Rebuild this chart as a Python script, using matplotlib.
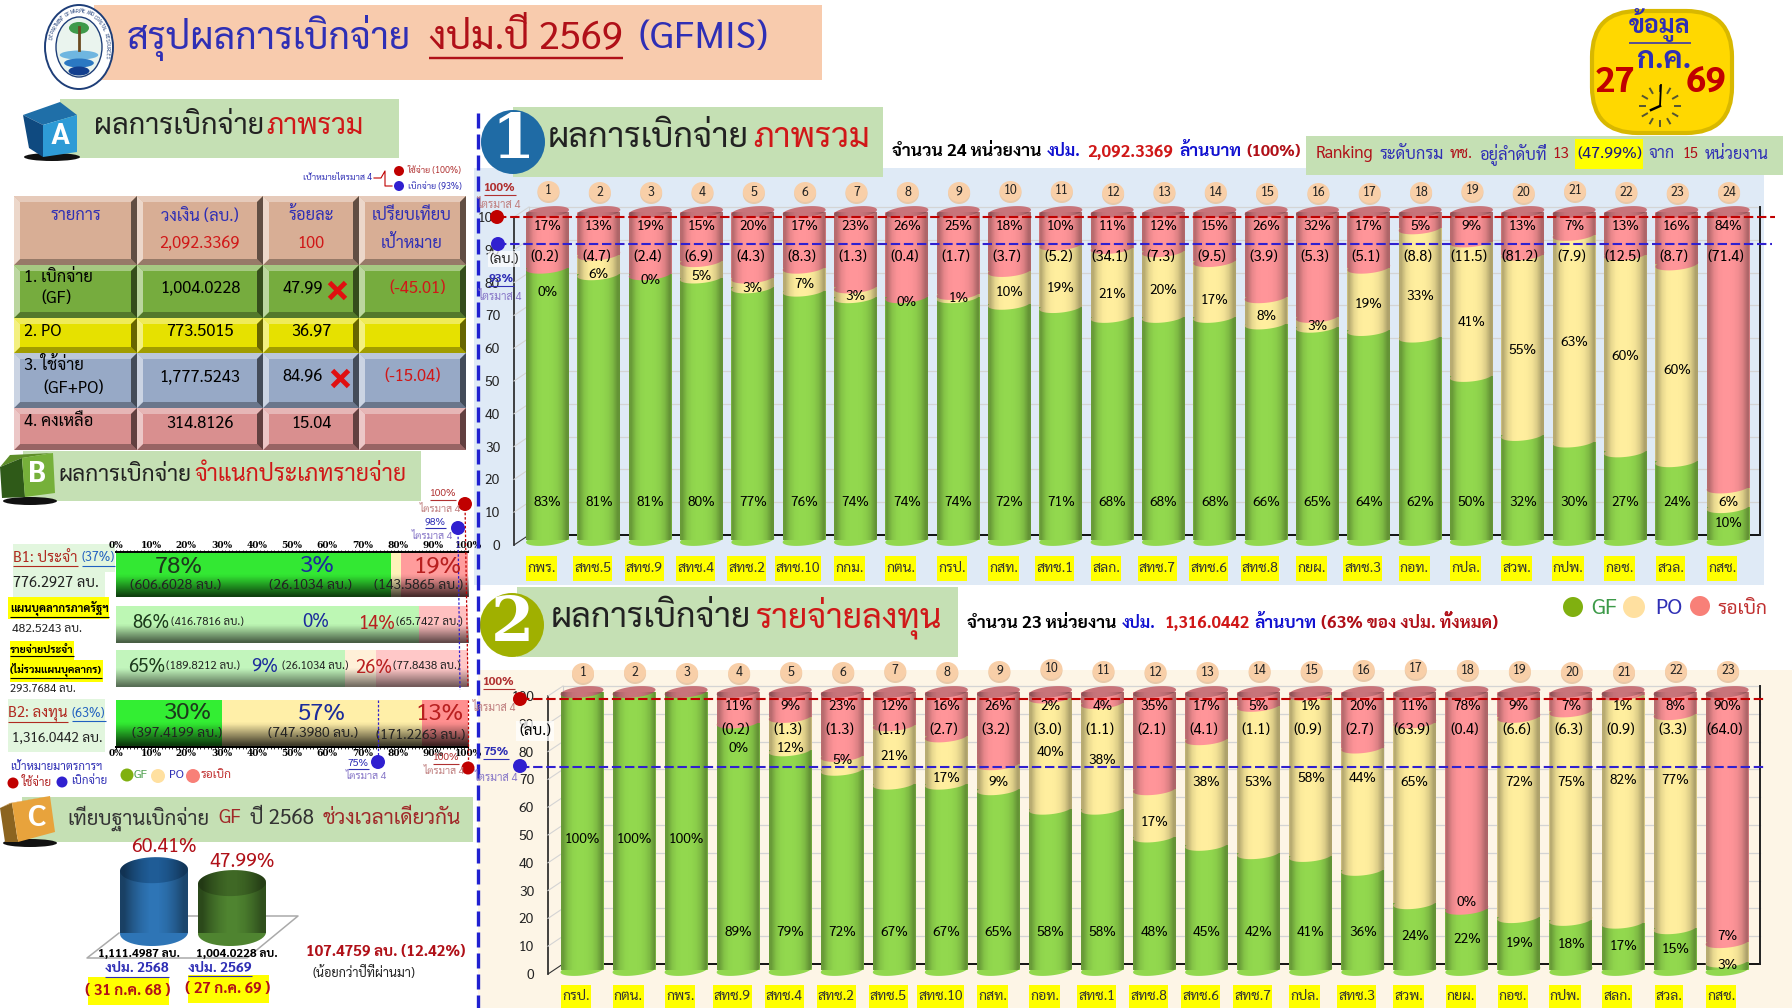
import numpy as np
import matplotlib
matplotlib.use("Agg")
import matplotlib.pyplot as plt
from matplotlib.colors import to_rgb
from matplotlib.patches import Ellipse, FancyBboxPatch, PathPatch, Polygon, Rectangle
from matplotlib.path import Path
from matplotlib.ticker import MultipleLocator
from matplotlib.transforms import Affine2D, IdentityTransform, blended_transform_factory

plt.rcParams["font.family"] = ["Sarabun", "Noto Sans Thai", "DejaVu Sans"]

W, H = 1792, 1008

# chart 1: all budget, 24 units
names1 = ["กพร.", "สทช.5", "สทช.9", "สทช.4", "สทช.2", "สทช.10", "กกม.", "กตน.", "กรป.", "กสท.", "สทช.1", "สลก.",
          "สทช.7", "สทช.6", "สทช.8", "กยผ.", "สทช.3", "กอท.", "กปล.", "สวพ.", "กปพ.", "กอช.", "สวล.", "กสช."]
gf1 = [83, 81, 81, 80, 77, 76, 74, 74, 74, 72, 71, 68, 68, 68, 66, 65, 64, 62, 50, 32, 30, 27, 24, 10]
po1 = [0, 6, 0, 5, 3, 7, 3, 0, 1, 10, 19, 21, 20, 17, 8, 3, 19, 33, 41, 55, 63, 60, 60, 6]
red1 = [17, 13, 19, 15, 20, 17, 23, 26, 25, 18, 10, 11, 12, 15, 26, 32, 17, 5, 9, 13, 7, 13, 16, 84]
amt1 = [0.2, 4.7, 2.4, 6.9, 4.3, 8.3, 1.3, 0.4, 1.7, 3.7, 5.2, 34.1, 7.3, 9.5, 3.9, 5.3, 5.1, 8.8, 11.5, 81.2,
        7.9, 12.5, 8.7, 71.4]

# chart 2: investment budget, 23 units
names2 = ["กรป.", "กตน.", "กพร.", "สทช.9", "สทช.4", "สทช.2", "สทช.5", "สทช.10", "กสท.", "กอท.", "สทช.1", "สทช.8",
          "สทช.6", "สทช.7", "กปล.", "สทช.3", "สวพ.", "กยผ.", "กอช.", "กปพ.", "สลก.", "สวล.", "กสช."]
gf2 = [100, 100, 100, 89, 79, 72, 67, 67, 65, 58, 58, 48, 45, 42, 41, 36, 24, 22, 19, 18, 17, 15, 3]
po2 = [0, 0, 0, 0, 12, 5, 21, 17, 9, 40, 38, 17, 38, 53, 58, 44, 65, 0, 72, 75, 82, 77, 7]
red2 = [0, 0, 0, 11, 9, 23, 12, 16, 26, 2, 4, 35, 17, 5, 1, 20, 11, 78, 9, 7, 1, 8, 90]
amt2 = [None, None, None, 0.2, 1.3, 1.3, 1.1, 2.7, 3.2, 3.0, 1.1, 2.1, 4.1, 1.1, 0.9, 2.7, 63.9, 0.4, 6.6, 6.3,
        0.9, 3.3, 64.0]

# pixel rows where the PO labels and number badges sit
po_row1 = [293, 274, 281, 276, 289, 284, 296, 303, 299, 293, 289, 295, 291, 301, 317, 327, 304, 296, 322, 351,
           342, 357, 370, 502]
po_row2 = [0, 0, 0, 749, 749, 760, 757, 778, 783, 752, 761, 822, 782, 782, 779, 779, 783, 902, 783, 783, 781,
           781, 936]
num_row1 = [191, 192, 192, 192, 192, 192, 192, 192, 192, 191, 191, 193, 192, 192, 193, 193, 193, 192, 191, 193,
            191, 192, 193, 192]
num_row2 = [673, 672, 673, 673, 672, 672, 671, 672, 671, 669, 671, 672, 672, 671, 671, 670, 669, 670, 671, 672,
            672, 671, 671]

# section B: horizontal stacked bars
b_gf = [78, 86, 65, 30]
b_po = [3, 0, 9, 57]
b_red = [19, 14, 26, 13]
b_gf_amt = ["(606.6028 ลบ.)", "(416.7816 ลบ.)", "(189.8212 ลบ.)", "(397.4199 ลบ.)"]
b_po_amt = ["(26.1034 ลบ.)", "", "(26.1034 ลบ.)", "(747.3980 ลบ.)"]
b_red_amt = ["(143.5865 ลบ.)", "(65.7427 ลบ.)", "(77.8438 ลบ.)", "(171.2263 ลบ.)"]

# section C: same period last year
c_pct = [60.41, 47.99]
c_amt = ["1,111.4987 ลบ.", "1,004.0228 ลบ."]
c_year = ["งปม. 2568", "งปม. 2569"]
c_date = ["( 31 ก.ค. 68 )", "( 27 ก.ค. 69 )"]

GF_C = "#92D84E"
PO_C = "#FFEE9E"
RED_C = "#FF9599"
TOP_C = "#C8747A"
HEAD_GREEN = "#C5E0B4"
BLUE = "#2F2FB5"
RED = "#D01818"
DRED = "#B01018"
MARK_RED = "#C00000"
MARK_BLUE = "#3020D0"

fig = plt.figure(figsize=(W / 100, H / 100), dpi=100, facecolor="white")
renderer = fig.canvas.get_renderer()


def layer(z):
    a = fig.add_axes([0, 0, 1, 1], zorder=z)
    a.set_xlim(0, W)
    a.set_ylim(H, 0)
    a.axis("off")
    return a


bg = layer(0)
fg = layer(5)


def T(x, y, s, px=14, color="black", ha="left", va="center", weight="normal", ul=False, ax=None, w=None, **kw):
    ax = ax or fg
    t = ax.text(x, y, s, fontsize=px * 0.72, color=color, ha=ha, va=va, fontweight=weight, **kw)
    if w:
        # scale the font so the text spans the width it has in the picture
        t.set_fontsize(t.get_fontsize() * w / t.get_window_extent(renderer).width)
    if ul:
        bb = t.get_window_extent(renderer)
        fg.plot([bb.x0, bb.x1], [H - bb.y0 + 1] * 2, color=color, lw=max(px / 22, 0.8), solid_capstyle="butt")
    return t


def rect(x0, y0, x1, y1, color, ax=None, **kw):
    (ax or bg).add_patch(Rectangle((x0, y0), x1 - x0, y1 - y0, fc=color, ec="none", **kw))


def dot(x, y, r, color, ax=None, ry=None, **kw):
    (ax or fg).add_patch(Ellipse((x, y), 2 * r, 2 * (ry or r), fc=color, ec="none", **kw))


def mix(c, other, f):
    return tuple(np.array(to_rgb(c)) * (1 - f) + np.array(to_rgb(other)) * f)


def bevel(x0, y0, x1, y1, c):
    rect(x0, y0, x1, y1, c)
    b = 6
    bg.add_patch(Polygon([(x0, y0), (x1, y0), (x1 - b, y0 + b), (x0 + b, y0 + b)], fc=mix(c, "white", 0.35), ec="none"))
    bg.add_patch(Polygon([(x0, y1), (x1, y1), (x1 - b, y1 - b), (x0 + b, y1 - b)], fc=mix(c, "black", 0.3), ec="none"))
    bg.add_patch(Polygon([(x0, y0), (x0, y1), (x0 + b, y1 - b), (x0 + b, y0 + b)], fc=mix(c, "white", 0.5), ec="none"))
    bg.add_patch(Polygon([(x1, y0), (x1, y1), (x1 - b, y1 - b), (x1 - b, y0 + b)], fc=mix(c, "black", 0.55), ec="none"))


def cube(top, left, right, ctop, cleft, cright, shadow, letter, lx, ly, lpx):
    dot(shadow[0], shadow[1], shadow[2], "#111111", ax=bg, ry=shadow[3])
    bg.add_patch(Polygon(top, fc=ctop, ec="none"))
    bg.add_patch(Polygon(left, fc=cleft, ec="none"))
    bg.add_patch(Polygon(right, fc=cright, ec="none"))
    T(lx, ly, letter, lpx, "white", ha="center", weight="bold")


def disc_path(c, v, w, hh, tilt):
    t = np.linspace(0, 2 * np.pi, 50)
    return np.c_[c + w * np.cos(t), v + hh * np.sin(t) + tilt * np.cos(t)]


def add_disc(ax, c, v, w, hh, tilt, color, z):
    ax.add_patch(Polygon(disc_path(c, v, w, hh, tilt), fc=color, ec="none", zorder=z, clip_on=False))


def add_shade(ax, c, top, w, hh, tilt, alphas, z):
    t0 = np.linspace(np.pi, 2 * np.pi, 30)
    t1 = np.linspace(0, np.pi, 30)
    xs = np.r_[c + w * np.cos(t0), c + w * np.cos(t1)]
    ys = np.r_[hh * np.sin(t0) + tilt * np.cos(t0), top + hh * np.sin(t1) + tilt * np.cos(t1)]
    sil = PathPatch(Path(np.c_[xs, ys]), fc="none", ec="none", transform=ax.transData, clip_on=False)
    ax.add_patch(sil)
    rgba = np.zeros((1, len(alphas), 4))
    rgba[0, :, 3] = alphas
    im = ax.imshow(rgba, extent=(c - w, c + w, -2 * hh, top + 2 * hh), aspect="auto", interpolation="bilinear", zorder=z)
    im.set_clip_path(sil)


CYL_SHADE = [0.28, 0.1, 0.02, 0, 0, 0.01, 0.05, 0.14, 0.32]


def cylinders(names, gf, po, red, amt, po_row, num_row, x0, dx, y0, y100, axis_x, wall_x, right, wall_dy, tick_dy,
              rows, label_y, box_h, target_px):
    ppu = (y0 - y100) / 100
    ax = fig.add_axes([axis_x / W, 1 - y0 / H, (right - axis_x) / W, (y0 - y100) / H], zorder=2)
    ax.patch.set_alpha(0)
    for s in ax.spines.values():
        s.set_visible(False)
    xlim = ((axis_x - x0) / dx, (right - x0) / dx)
    ax.set_xlim(xlim)
    ax.set_ylim(0, 100)
    x = np.arange(len(names))
    gf, po, red = np.array(gf), np.array(po), np.array(red)
    w = 21.5 / dx
    hh = 5.5 / ppu
    tilt = 2.2 / ppu

    # back wall, floor and the slanted 3D lines
    wall = ax.transData + Affine2D().translate(0, wall_dy)
    front = ax.transData + Affine2D().translate(0, -tick_dy)
    wx = (wall_x - x0) / dx
    for v in range(0, 101, 10):
        col = "black" if v == 0 else "#D4D4D4"
        ax.plot([wx, xlim[1]], [v, v], color=col, lw=1.3 if v == 0 else 0.9, transform=wall, clip_on=False, zorder=1)
    ax.plot([xlim[1]] * 2, [0, 100], color="#222222", lw=1.4, transform=wall, clip_on=False, zorder=1)
    ax.plot([xlim[0]] * 2, [0, 100], color="#222222", lw=1.2, transform=front, clip_on=False, zorder=1)
    ax.plot([wx, wx], [0, 100], color="#CFCFCF", lw=0.8, transform=wall, clip_on=False, zorder=1)
    for v in range(0, 101, 10):
        a = ax.transData.transform((xlim[0], v)) + (0, -tick_dy)
        b = ax.transData.transform((wx, v)) + (0, wall_dy)
        ax.plot([a[0], b[0]], [a[1], b[1]], color="#D4D4D4" if v else "#333333", lw=0.8,
                transform=IdentityTransform(), clip_on=False, zorder=1)

    ax.bar(x, gf, 2 * w, color=GF_C, zorder=3)
    ax.bar(x, po, 2 * w, bottom=gf, color=PO_C, zorder=4)
    ax.bar(x, red, 2 * w, bottom=gf + po, color=RED_C, zorder=5)
    for i in x:
        add_disc(ax, i, 0, w, hh, tilt, GF_C, 3)
        if po[i] > 0:
            add_disc(ax, i, gf[i], w, hh, tilt, PO_C, 4)
        if red[i] > 0:
            add_disc(ax, i, gf[i] + po[i], w, hh, tilt, RED_C, 5)
        add_disc(ax, i, 100, w, hh, tilt, TOP_C, 6)
        add_shade(ax, i, 100, w, hh, tilt, CYL_SHADE, 7)

    ax.set_xlim(xlim)
    ax.set_ylim(0, 100)
    ax.set_xticks([])
    ax.set_yticks(range(0, 101, 10))
    ax.tick_params(axis="y", length=0, pad=10, labelsize=10, labelcolor="#222222")
    for lab in ax.get_yticklabels():
        lab.set_transform(lab.get_transform() + Affine2D().translate(0, -tick_dy))

    tr = blended_transform_factory(ax.transData, fg.transData)
    red_y, amt_y, gf_y = rows
    for i in x:
        gf_mid = y0 - gf[i] / 2 * ppu
        gy = gf_y if gf[i] < 100 else y0 - 46.8 * ppu
        gy = max(gy, gf_mid) if gf[i] < 100 else gy
        ax.text(i, gy, f"{gf[i]}%", transform=tr, ha="center", va="center", fontsize=10, zorder=8)
        if amt[i] is not None:
            ax.text(i, red_y, f"{red[i]}%", transform=tr, ha="center", va="center", fontsize=10, zorder=8)
            ax.text(i - 0.05, amt_y, f"({amt[i]:.1f})", transform=tr, ha="center", va="center", fontsize=10.5, zorder=8)
            ax.text(i, po_row[i], f"{po[i]}%", transform=tr, ha="center", va="center", fontsize=10, zorder=8)
        # number badge and yellow name label
        cx = x0 + i * dx + 1
        dot(cx, num_row[i] + 2, 11, "#E8C8A8", ax=bg, ry=10)
        dot(cx, num_row[i], 11, "#F8CFA8", ax=bg, ry=10)
        T(cx, num_row[i], str(i + 1), 12.5, "#222222", ha="center")
        lx = x0 + i * dx - 6
        t = T(lx, label_y, names[i], 14, "#333333", ha="center")
        bb = t.get_window_extent(renderer)
        rect(bb.x0 - 1, label_y - box_h / 2, bb.x1 + 1, label_y + box_h / 2, "#FFFF00")

    # target lines, read against the tick scale
    for val, shift, col, xa, xb in target_px:
        tf = ax.transData + Affine2D().translate(0, -shift)
        ax.plot([(xa - x0) / dx, (xb - x0) / dx], [val, val], color=col, lw=1.5, dashes=(4.5, 1.8), transform=tf,
                clip_on=False, zorder=9)
    return ax


# ---- backgrounds
rect(94, 5, 822, 80, "#F8CBAD")
rect(60, 99, 399, 158, HEAD_GREEN)
rect(474, 168, 1764, 585, "#DFEAF6")
rect(513, 107, 883, 177, HEAD_GREEN)
rect(1306, 136, 1783, 175, HEAD_GREEN)
rect(478, 670, W, H, "#FDF5E6")
rect(517, 587, 958, 657, HEAD_GREEN)
rect(23, 451, 421, 501, HEAD_GREEN)
rect(22, 797, 473, 842, HEAD_GREEN)

# ---- title and logo
dot(79, 47, 34, "white", ax=bg, ry=42, lw=0)
bg.add_patch(Ellipse((79, 47), 68, 84, fc="none", ec="#1E3E78", lw=1.4))
bg.add_patch(Ellipse((79, 47), 46, 60, fc="#EAF4EE", ec="#1E3E78", lw=1))
for yy, col in [(52, "#6FB6E0"), (60, "#2B78C2"), (68, "#123E8E")]:
    hw = 22 - abs(yy - 47) * 0.55
    bg.add_patch(Ellipse((79, yy + 3), 2 * hw, 9, fc=col, ec="none"))
bg.plot([79, 79], [27, 50], color="#6B4A20", lw=2)
dot(79, 28, 10, "#3E9A4A", ax=bg, ry=6)
ring_top = "DEPARTMENT OF MARINE AND COASTAL RESOURCES"
for ang, ch in zip(np.linspace(165, -15, len(ring_top)), ring_top):
    a = np.deg2rad(ang)
    bg.text(79 + 28.5 * np.cos(a), 47 - 36 * np.sin(a), ch, fontsize=3.6, color="#1E3E78", ha="center", va="center",
            rotation=ang - 90)

T(127, 38, "สรุปผลการเบิกจ่าย", 38, BLUE, w=285)
T(429, 38, "งปม.ปี 2569", 38, DRED, ul=True, w=194)
T(639, 38, "(GFMIS)", 38, BLUE, w=130)

# ---- date badge
bg.add_patch(FancyBboxPatch((1612, 31), 100, 82, boxstyle="round,pad=20,rounding_size=46", fc="#FFD800", ec="#D8B800", lw=3))
T(1660, 25, "ข้อมูล", 25, BLUE, ha="center", weight="bold", ul=True)
T(1664, 60, "ก.ค.", 30, BLUE, ha="center", weight="bold")
T(1615, 83, "27", 36, "#C00000", ha="center", weight="bold")
T(1706, 83, "69", 36, "#C00000", ha="center", weight="bold")
for a in np.deg2rad(np.arange(0, 360, 30)):
    fg.plot([1660 + 15 * np.cos(a), 1660 + 20 * np.cos(a)], [106 + 15 * np.sin(a), 106 + 20 * np.sin(a)], color="#555533", lw=1.4)
fg.plot([1660, 1661], [106, 85], color="black", lw=1.3)
fg.plot([1660, 1651], [106, 110], color="black", lw=1.8)

# ---- section A
cube([(23, 115), (60, 102), (77, 115), (43, 125)], [(23, 115), (43, 125), (43, 157), (29, 148)],
     [(43, 125), (77, 115), (77, 152), (43, 157)], "#1F6FA8", "#0F4A80", "#2E9BD6", (52, 157, 28, 4), "A", 60, 137, 30)
T(94, 126, "ผลการเบิกจ่าย", 31, "#222222", w=169)
T(266, 126, "ภาพรวม", 31, RED, w=97)

T(372, 178, "เป้าหมายไตรมาส 4", 9, BLUE, ha="right")
fg.plot([374, 381, 385, 385, 392], [178, 178, 171, 186, 186], color=MARK_RED, lw=0.8)
dot(399, 171, 5, MARK_RED)
dot(399, 186, 5, MARK_BLUE)
T(408, 171, "ใช้จ่าย (100%)", 9, "#B03030")
T(408, 187, "เบิกจ่าย (93%)", 9, BLUE)

cols_x = [14, 137, 263, 359, 466]
rows_y = [196, 265, 318, 353, 408, 450]
row_c = ["#D8AE95", "#76AC3E", "#E6E100", "#97A9C6", "#D98F8F"]
for r in range(5):
    for c in range(4):
        bevel(cols_x[c], rows_y[r], cols_x[c + 1], rows_y[r + 1], row_c[r])

for x, a, b, col in [(76, "รายการ", "", BLUE), (200, "วงเงิน (ลบ.)", "2,092.3369", RED), (311, "ร้อยละ", "100", RED),
                     (412, "เปรียบเทียบ", "เป้าหมาย", BLUE)]:
    T(x, 216, a, 16.5, BLUE, ha="center")
    T(x, 244, b, 16.5, col, ha="center")
T(24, 277, "1. เบิกจ่าย", 16.5)
T(41, 298, "(GF)", 16.5)
T(200, 288, "1,004.0228", 16.5, ha="center")
T(303, 288, "47.99", 16.5, ha="center")
T(418, 288, "(-45.01)", 16.5, RED, ha="center")
T(24, 331, "2. PO", 16.5)
T(200, 332, "773.5015", 16.5, ha="center")
T(311, 332, "36.97", 16.5, ha="center")
T(24, 366, "3. ใช้จ่าย", 16.5)
T(43, 388, "(GF+PO)", 16.5)
T(200, 377, "1,777.5243", 16.5, ha="center")
T(303, 377, "84.96", 16.5, ha="center")
T(413, 376, "(-15.04)", 16.5, RED, ha="center")
T(24, 421, "4. คงเหลือ", 16.5)
T(200, 424, "314.8126", 16.5, ha="center")
T(311, 424, "15.04", 16.5, ha="center")
fg.plot([337, 340], [290, 378], ls="none", marker="x", ms=11, mew=3.5, color="#E01010")

# ---- section B
cube([(0, 467), (10, 455), (53, 453), (22, 458)], [(0, 467), (22, 458), (25, 497), (2, 498)],
     [(22, 458), (53, 453), (55, 493), (25, 497)], "#5E8E2A", "#2F5A18", "#76B03A", (30, 501, 27, 4), "B", 37, 475, 30)
T(58, 475, "ผลการเบิกจ่าย", 25, "#222222", w=134)
T(194, 475, "จำแนกประเภทรายจ่าย", 25, RED, w=213)

rect(13, 544, 115, 572, "#E2F6DE")
rect(13, 572, 105, 597, "#E2F6DE")
T(13, 558, "B1: ประจำ", 17, "#B02A20", ul=True, w=64)
T(82, 558, "(37%)", 13.5, "#2060C0", ul=True, w=33)
T(13, 583, "776.2927 ลบ.", 16, "#222222", w=86)
rect(8, 597, 109, 619, "#FFFF00")
T(10, 608, "แผนบุคลากรภาครัฐฯ", 12, "black", weight="bold", ul=True, w=98)
T(12, 629, "482.5243 ลบ.", 12.5, "#222222", w=70)
rect(10, 641, 74, 660, "#FFFF00")
rect(10, 660, 103, 682, "#FFFF00")
T(10, 650, "รายจ่ายประจำ", 12, "black", weight="bold", ul=True, w=63)
T(10, 670, "(ไม่รวมแผนบุคลากร)", 12, "black", weight="bold", ul=True, w=92)
T(10, 689, "293.7684 ลบ.", 12.5, "#222222", w=65)
rect(8, 699, 105, 752, "#E2F6DE")
T(8, 713, "B2: ลงทุน", 17, "#B02A20", ul=True, w=59)
T(72, 713, "(63%)", 13.5, "#2060C0", ul=True, w=33)
T(12, 738, "1,316.0442 ลบ.", 15.5, "#222222", w=91)

bax = fig.add_axes([116 / W, 1 - 747 / H, 352 / W, 195 / H], zorder=2)
bax.patch.set_alpha(0)
b_y = [575, 624.5, 668.5, 723]
b_h = [44, 37, 37, 46]
b_cols = [("#33E833", "#FFF2B8", "#FF9C9C"), ("#BDF7B4", "#FFF0D8", "#FFC0C0"),
          ("#C2F5BC", "#FFF0D8", "#FFC8C8"), ("#33EE33", "#FFEFA8", "#FF8F8F")]
left = np.zeros(4)
for k, vals in enumerate([b_gf, b_po, b_red]):
    bax.barh(b_y, vals, b_h, left=left, color=[c[k] for c in b_cols], zorder=2)
    left = left + np.array(vals)
for y, h, dark in zip(b_y, b_h, [0.72, 0.62, 0.55, 0.75]):
    grad = np.zeros((16, 1, 4))
    grad[:, 0, 3] = np.clip((np.linspace(0, 1, 16) - 0.5) / 0.5, 0, 1) * dark
    bax.imshow(grad, extent=(0, 100, y + h / 2, y - h / 2), aspect="auto", interpolation="bilinear", zorder=3)
bax.set_xlim(0, 100)
bax.set_ylim(747, 552)
bax.set_yticks([])
for s in ["left", "right"]:
    bax.spines[s].set_visible(False)
for s in ["top", "bottom"]:
    bax.spines[s].set_linewidth(1.4)
bax.xaxis.set_minor_locator(MultipleLocator(1))
pct_ticks = list(range(0, 101, 10))
bax.set_xticks(pct_ticks)
bax.tick_params(axis="x", which="both", top=True, labeltop=True, bottom=False, labelbottom=False, length=1.5, pad=0,
                labelsize=6.5)
bax.set_xticklabels([f"{v}%" for v in pct_ticks])
for lab in bax.get_xticklabels():
    lab.set_fontfamily("DejaVu Serif")
    lab.set_fontweight("bold")
sec = bax.secondary_xaxis("bottom")
sec.set_xticks(pct_ticks)
sec.set_xticklabels([f"{v}%" for v in pct_ticks], fontfamily="DejaVu Serif", fontweight="bold", fontsize=6.5)
sec.xaxis.set_minor_locator(MultipleLocator(1))
sec.tick_params(axis="x", which="both", length=1.5, pad=0)
sec.spines["bottom"].set_linewidth(1.4)

GF_TXT, PO_TXT, RED_TXT = "#1C3A1C", "#1C2C9C", "#B82020"
pct_xy = [[(179, 567), (317, 566), (437, 566)], [(151, 623), (316, 622), (377, 624)],
          [(147, 667), (265, 667), (374, 668)], [(188, 713), (322, 714), (439, 714)]]
amt_xy = [[(176, 586), (310, 585), (419, 585)], [(207, 623), (0, 0), (429, 623)],
          [(203, 666), (315, 666), (427, 667)], [(177, 734), (313, 734), (421, 735)]]
amt_w = [[91, 83, 89], [72, 0, 66], [73, 66, 67], [90, 90, 89]]
big = [24, 18.5, 18.5, 24]
for r in range(4):
    series = [(b_gf[r], b_gf_amt[r], GF_TXT), (b_po[r], b_po_amt[r], PO_TXT), (b_red[r], b_red_amt[r], RED_TXT)]
    for k, (v, a, col) in enumerate(series):
        T(*pct_xy[r][k], f"{v}%", big[r], col, ha="center")
        if a:
            T(*amt_xy[r][k], a, 14, "#222222", ha="center", w=amt_w[r][k])

# target markers around the bars
fg.plot([465, 468], [504, 687], color=MARK_RED, lw=0.9, ls=(0, (2, 1.5)))
fg.plot([458, 460], [528, 690], color=MARK_BLUE, lw=0.9, ls=(0, (2, 1.5)))
fg.plot([378, 378], [700, 762], color=MARK_BLUE, lw=0.9, ls=(0, (2, 1.5)))
fg.plot([468, 468], [700, 768], color=MARK_RED, lw=0.9, ls=(0, (2, 1.5)))
dot(465, 504, 7, MARK_RED)
dot(458, 528, 7, MARK_BLUE)
dot(378, 762, 7, MARK_BLUE)
dot(468, 768, 6.5, MARK_RED)
Q4_R, Q4_B = "#C08080", "#8878C8"
T(443, 494, "100%", 10.5, "#B03030", ha="center", ul=True)
T(440, 509, "ไตรมาส 4", 10.5, Q4_R, ha="center")
T(435, 522, "98%", 10.5, BLUE, ha="center", ul=True)
T(432, 536, "ไตรมาส 4", 10.5, Q4_B, ha="center")
T(358, 763, "75%", 10.5, BLUE, ha="center", ul=True)
T(366, 776, "ไตรมาส 4", 10.5, Q4_B, ha="center")
T(446, 758, "100%", 10.5, "#B03030", ha="center", ul=True)
T(444, 771, "ไตรมาส 4", 10.5, Q4_R, ha="center")

T(10, 768, "เป้าหมายมาตรการฯ", 11.5, BLUE)
dot(13, 783, 5.5, MARK_RED)
T(22, 783, "ใช้จ่าย", 11.5, "#B02020")
dot(62, 782, 5.5, MARK_BLUE)
T(71, 782, "เบิกจ่าย", 11.5, BLUE)
dot(127, 775, 6.5, "#80B010")
T(134, 775, "GF", 12, "#50A050")
dot(158, 776, 7, "#FFE0A0")
T(169, 775, "PO", 12, BLUE)
dot(193, 776, 7, "#F88078")
T(201, 775, "รอเบิก", 12, "#C03030")

# ---- section C
cube([(0, 808), (10, 803), (50, 796), (12, 803)], [(0, 808), (12, 803), (18, 842), (5, 842)],
     [(12, 803), (50, 796), (55, 832), (18, 842)], "#C88A30", "#8C6420", "#E8A33C", (30, 843, 27, 4), "C", 36, 819, 30)
T(67, 818, "เทียบฐานเบิกจ่าย", 19.5, "#333333", w=142)
T(218, 818, "GF", 19.5, "#A02828", w=23)
T(250, 818, "ปี 2568", 19.5, "#333333", w=64)
T(323, 818, "ช่วงเวลาเดียวกัน", 19.5, "#A02828", w=139)

bg.plot([119, 87, 247, 298, 188], [933, 958, 958, 916, 916], color="#AAAAAA", lw=1.1)
cax = fig.add_axes([105 / W, 1 - 933 / H, 176 / W, 70 * 1.04 / H], zorder=2)
cax.patch.set_alpha(0)
cax.axis("off")
cw = 34 / 78
chh = 12.5
for i, (v, col, top) in enumerate(zip(c_pct, ["#2E75B6", "#4F8430"], ["#1F5C96", "#3F6825"])):
    cax.bar(i, v, 2 * cw, color=col, zorder=2)
    add_disc(cax, i, 0, cw, chh, 0.8, col, 2)
    add_disc(cax, i, v, cw, chh, 0.8, top, 3)
    add_shade(cax, i, v, cw, chh, 0.8, [0.45, 0.25, 0.1, 0, 0, 0.08, 0.22, 0.4], 4)
cax.set_xlim((105 - 154) / 78, (281 - 154) / 78)
cax.set_ylim(0, 70)
tc = blended_transform_factory(cax.transData, fg.transData)
for i, yp in enumerate([847, 862]):
    cax.text(i + 0.13, yp, f"{c_pct[i]:.2f}%", transform=tc, ha="center", va="center", fontsize=14, color=DRED,
             zorder=6, clip_on=False)
T(139, 954, c_amt[0], 14.5, "black", ha="center", weight="bold", w=82)
T(237, 954, c_amt[1], 14.5, "black", ha="center", weight="bold", w=82)
T(137, 969, c_year[0], 14, BLUE, ha="center", weight="bold", ul=True)
T(220, 968, c_year[1], 14, BLUE, ha="center", weight="bold", ul=True)
rect(88, 977, 169, 1005, "#FFFF00")
rect(188, 975, 269, 1003, "#FFFF00")
T(128, 991, c_date[0], 15, DRED, ha="center", weight="bold")
T(228, 989, c_date[1], 15, DRED, ha="center", weight="bold")
T(386, 952, "107.4759 ลบ. (12.42%)", 18, DRED, ha="center", weight="bold", w=160)
T(364, 973, "(น้อยกว่าปีที่ผ่านมา)", 14, "#222222", ha="center", w=103)

# ---- section dividing line
fg.plot([478, 478], [113, H], color="#2020D0", lw=2.4, dashes=(4.5, 1.8))

# ---- chart 1
dot(513, 142, 32, "#1F6BA5", ax=bg)
T(513, 141, "1", 62, "white", ha="center", weight="bold", family="DejaVu Serif")
T(548, 138, "ผลการเบิกจ่าย", 38, "#222222", w=202)
T(753, 138, "ภาพรวม", 38, RED, w=117)
T(892, 152, "จำนวน 24 หน่วยงาน", 18, "black", weight="bold", w=149)
T(1047, 152, "งปม.", 18, "#1010D0", weight="bold", w=34)
T(1087, 152, "2,092.3369", 18, RED, weight="bold", w=86)
T(1179, 152, "ล้านบาท", 18, "#1010D0", weight="bold", w=62)
T(1246, 152, "(100%)", 18, DRED, weight="bold", w=55)

rect(1575, 139, 1643, 169, "#FFFF00")
rank_parts = [(1316, "Ranking", DRED, 58), (1380, "ระดับกรม", BLUE, 64), (1450, "ทช.", DRED, 23),
              (1479, "อยู่ลำดับที่", BLUE, 67), (1552, "13", DRED, 17), (1577, "(47.99%)", "#1A1A80", 65),
              (1649, "จาก", BLUE, 26), (1682, "15", DRED, 16), (1705, "หน่วยงาน", BLUE, 64)]
for x, s, col, wid in rank_parts:
    T(x, 154, s, 16, col, w=wid)

cylinders(names1, gf1, po1, red1, amt1, po_row1, num_row1, x0=547.5, dx=51.33, y0=540, y100=212, axis_x=514,
          wall_x=529, right=1760, wall_dy=5, tick_dy=5, rows=(227, 257, 503), label_y=568, box_h=25,
          target_px=[(100, 5, MARK_RED, 497, 1775), (93, 9, MARK_BLUE, 497, 1772)])

dot(497, 217, 7, MARK_RED)
dot(498, 244, 7, MARK_BLUE)
T(500, 188, "100%", 12, "#B03030", ha="center", weight="bold", ul=True)
T(500, 205, "ไตรมาส 4", 11, Q4_R, ha="center")
T(504, 259, "(ลบ.)", 14, "#222222", ha="center", bbox=dict(fc="white", ec="none", alpha=0.7, pad=1))
T(501, 279, "93%", 12, BLUE, ha="center", weight="bold", ul=True)
T(501, 297, "ไตรมาส 4", 11, Q4_B, ha="center")

# ---- chart 2
dot(512, 625, 32, "#A0B000", ax=bg)
T(512, 624, "2", 62, "white", ha="center", weight="bold", family="DejaVu Serif")
T(551, 618, "ผลการเบิกจ่าย", 38, "#222222", w=201)
T(756, 618, "รายจ่ายลงทุน", 38, RED, w=187)
T(967, 623, "จำนวน 23 หน่วยงาน", 18, "black", weight="bold", w=149)
T(1122, 623, "งปม.", 18, "#1010D0", weight="bold", w=34)
T(1164, 623, "1,316.0442", 18, RED, weight="bold", w=85)
T(1254, 623, "ล้านบาท", 18, "#1010D0", weight="bold", w=62)
T(1321, 623, "(63% ของ งปม. ทั้งหมด)", 18, DRED, weight="bold", w=177)

dot(1573, 607, 10, "#80B010")
T(1591, 609, "GF", 22, "#3C9A48")
dot(1634, 607, 11, "#FFE0A0")
T(1655, 609, "PO", 22, BLUE)
dot(1700, 606, 10, "#F88078")
T(1717, 609, "รอเบิก", 22, "#C03030", w=50)

cylinders(names2, gf2, po2, red2, amt2, po_row2, num_row2, x0=582, dx=52.05, y0=970, y100=692, axis_x=548,
          wall_x=563, right=1760, wall_dy=6, tick_dy=4, rows=(707, 730, 933), label_y=997, box_h=25,
          target_px=[(100, 7, MARK_RED, 520, 1764), (75, 5.5, MARK_BLUE, 520, 1764)])

dot(520, 699, 7, MARK_RED)
dot(520, 766, 7, MARK_BLUE)
T(499, 682, "100%", 12, "#B03030", ha="center", weight="bold", ul=True)
T(495, 708, "ไตรมาส 4", 11, Q4_R, ha="center")
T(535, 731, "(ลบ.)", 15, "black", ha="center", bbox=dict(fc="white", ec="none", alpha=0.75, pad=2))
T(496, 752, "75%", 12, BLUE, ha="center", weight="bold", ul=True)
T(497, 778, "ไตรมาส 4", 11, Q4_B, ha="center")

fig.savefig("out.png", dpi=100)
